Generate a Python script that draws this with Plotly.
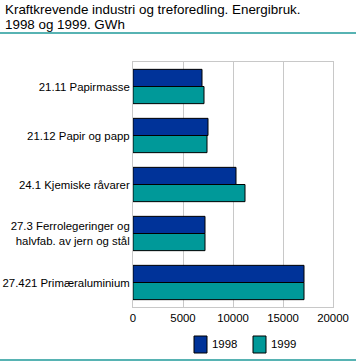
import plotly.graph_objects as go

categories = [
    "21.11 Papirmasse",
    "21.12 Papir og papp",
    "24.1 Kjemiske råvarer",
    "27.3 Ferrolegeringer og<br>halvfab. av jern og stål",
    "27.421 Primæraluminium",
]
values_1998 = [6900, 7500, 10300, 7200, 17100]
values_1999 = [7100, 7400, 11200, 7200, 17100]
series_names = ["1998", "1999"]
x_ticks = [0, 5000, 10000, 15000, 20000]
title_lines = ["Kraftkrevende industri og treforedling. Energibruk.", "1998 og 1999. GWh"]

colors = ["#003399", "#009999"]
W, H = 356, 361
L, R, T, B = 133, 23, 62, 54
pw = W - L - R
ph = H - T - B
line_color = "#1f9a9a"
FONT = "Liberation Sans, Arial, sans-serif"


def px_x(x):
    return (x - L) / pw


def px_y(y):
    return 1 - (y - T) / ph


fig = go.Figure()
for name, vals, col in zip(series_names, [values_1998, values_1999], colors):
    fig.add_trace(go.Bar(y=categories, x=vals, name=name, orientation="h",
                         marker=dict(color=col, line=dict(color="#000000", width=1))))

# manual legend (tall swatches like the reference)
legend_shapes = []
legend_annots = []
for i, (name, col) in enumerate(zip(series_names, colors)):
    bx = 194 + i * 59
    legend_shapes.append(dict(type="rect", xref="paper", yref="paper",
                              x0=px_x(bx), x1=px_x(bx + 13), y0=px_y(353), y1=px_y(336),
                              fillcolor=col, line=dict(color="#000000", width=1)))
    legend_annots.append(dict(text=name, xref="paper", yref="paper",
                              x=px_x(bx + 16), y=px_y(344), xanchor="left", yanchor="middle",
                              showarrow=False, font=dict(size=11.4, color="#000000")))

fig.update_layout(
    width=W, height=H,
    margin=dict(l=L, r=R, t=T, b=B, pad=0, autoexpand=False),
    paper_bgcolor="white", plot_bgcolor="white",
    font=dict(family=FONT, size=11.4, color="#000000"),
    barmode="group", bargap=0.3, bargroupgap=0,
    showlegend=False,
    annotations=[
        dict(text=title_lines[0], xref="paper", yref="paper", x=px_x(3), y=px_y(9.3),
             xanchor="left", yanchor="middle", showarrow=False,
             font=dict(size=13.4, color="#000000")),
        dict(text=title_lines[1], xref="paper", yref="paper", x=px_x(3), y=px_y(24.7),
             xanchor="left", yanchor="middle", showarrow=False,
             font=dict(size=13.4, color="#000000")),
    ] + legend_annots,
    shapes=[
        dict(type="line", xref="paper", yref="paper", x0=px_x(0), x1=px_x(W),
             y0=px_y(33), y1=px_y(33), line=dict(color=line_color, width=1.5)),
        dict(type="line", xref="paper", yref="paper", x0=px_x(0), x1=px_x(W),
             y0=px_y(360), y1=px_y(360), line=dict(color=line_color, width=1.5)),
    ] + legend_shapes,
)
fig.update_xaxes(range=[0, 20000], tickvals=x_ticks, ticktext=[str(v) for v in x_ticks],
                 showgrid=True, gridcolor="#c8c8c8", gridwidth=1, automargin=False,
                 showline=True, linecolor="#c8c8c8", mirror=True, zeroline=False,
                 ticks="", tickfont=dict(size=11.4))
fig.update_yaxes(autorange="reversed", showgrid=False, showline=True, automargin=False,
                 linecolor="#c8c8c8", mirror=True, ticks="", ticklabelstandoff=0,
                 tickfont=dict(size=11.4))

fig.write_html("out.html", config={"displayModeBar": False},
               post_script="document.body.style.margin='0px';")
